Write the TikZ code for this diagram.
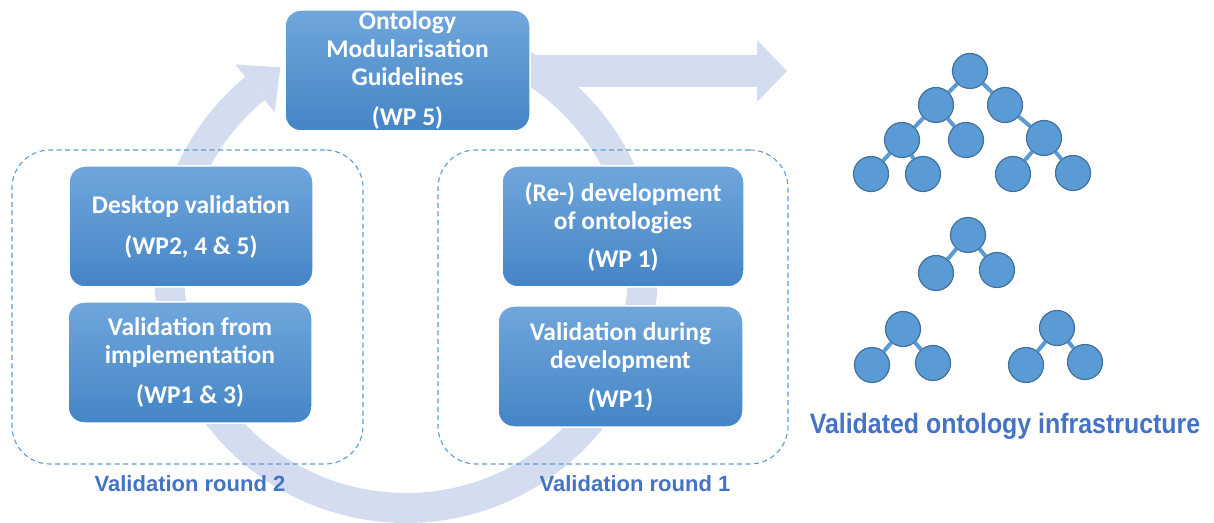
\documentclass[tikz,border=0pt]{standalone}
\usepackage{fontspec}
\setmainfont{Carlito}
\newfontfamily\labfont{Liberation Sans}
\newfontfamily\labnarrow[FakeStretch=0.89]{Liberation Sans}
\usetikzlibrary{calc}
\definecolor{ringc}{HTML}{D3DDEF}
\definecolor{dashc}{HTML}{5B9BD5}
\definecolor{boxtop}{HTML}{70A6DC}
\definecolor{boxbot}{HTML}{4485C6}
\definecolor{labc}{HTML}{4472C4}
\definecolor{treec}{HTML}{5B9BD5}
\definecolor{treeb}{HTML}{41719C}
\tikzset{
  ring/.style={draw=ringc, line width=30pt},
  ringfill/.style={fill=ringc},
  dashbox/.style={draw=dashc, line width=1.1pt, dash pattern=on 5pt off 3.5pt, rounded corners=38pt, inner sep=0pt},
  wpbox/.style={rounded corners=16pt, top color=boxtop, bottom color=boxbot, draw=white, line width=1.5pt,
    minimum width=244pt, minimum height=121pt, inner sep=0pt, text=white, align=center,
    font=\fontsize{25.5}{28}\selectfont\bfseries},
  lab/.style={text=labc, inner sep=0pt, anchor=base, font=\labfont\fontsize{22}{24}\selectfont\bfseries},
  tn/.style={circle, fill=treec, draw=treeb, line width=1.2pt, minimum size=35pt, inner sep=0pt},
  te/.style={draw=treec, line width=4pt},
}
\begin{document}
\begin{tikzpicture}[x=1pt,y=1pt]
\useasboundingbox (0,0) rectangle (1214,522);
\coordinate (C) at (406,251);
% circular arrow
\draw[ring] ($(C)+(129.6:237)$) arc[start angle=129.6, end angle=422, radius=237];
\fill[ringfill] ($(C)+(129.6:268)$) -- ($(C)+(129.6:206)$) -- ($(C)+(129.6:237)+(39.6:33)$) -- cycle;
% outgoing arrow
\coordinate (out) at (787,451);
\fill[ringfill] (505,467) rectangle (758,435);
\fill[ringfill] (757,482) -- (out) -- (757,420) -- cycle;
% dashed groups
\node[dashbox, minimum width=351pt, minimum height=314pt] (g2) at (187.5,215) {};
\node[dashbox, minimum width=350pt, minimum height=314pt] (g1) at (613,215) {};
% boxes
\node[wpbox, minimum width=245pt] (guide) at (407.5,451.5) {Ontology\\Modularisation\\Guidelines\\[12pt](WP 5)};
\node[wpbox] (desk) at (191,295.5) {Desktop validation\\[13pt](WP2, 4 \& 5)};
\node[wpbox] (impl) at (190,159.5) {Validation from\\implementation\\[12pt](WP1 \& 3)};
\node[wpbox, minimum width=242pt] (dev) at (623,295.5) {(Re-) development\\of ontologies\\[10pt](WP 1)};
\node[wpbox, minimum width=245pt] (vdev) at (620.5,155.5) {Validation during\\development\\[11pt](WP1)};
% labels
\node[lab] (l2) at (190,31) {Validation round 2};
\node[lab] (l1) at (635,31) {Validation round 1};
\node[lab, font=\labnarrow\fontsize{28}{30}\selectfont\bfseries] (inf) at (1005,89) {Validated ontology infrastructure};
% big tree
\node[tn] (t0) at (970,451) {};
\node[tn] (ta) at (936,417) {};
\node[tn] (tb) at (1005,417) {};
\node[tn] (tc) at (902,382) {};
\node[tn] (td) at (966,382) {};
\node[tn] (te) at (1044,384) {};
\node[tn] (tf) at (871,348) {};
\node[tn] (tg) at (923,348) {};
\node[tn] (th) at (1013,348) {};
\node[tn] (ti) at (1073,349) {};
% small trees
\node[tn] (r2) at (968,287) {};
\node[tn] (a2) at (936,249) {};
\node[tn] (b2) at (997,252) {};
\node[tn] (r3) at (903,193) {};
\node[tn] (a3) at (872,157) {};
\node[tn] (b3) at (933,159) {};
\node[tn] (r4) at (1057,194) {};
\node[tn] (a4) at (1026,157) {};
\node[tn] (b4) at (1085,160) {};
\draw[te] (t0) -- (ta); \draw[te] (t0) -- (tb);
\draw[te] (ta) -- (tc); \draw[te] (ta) -- (td);
\draw[te] (tb) -- (te);
\draw[te] (tc) -- (tf); \draw[te] (tc) -- (tg);
\draw[te] (te) -- (th); \draw[te] (te) -- (ti);
\draw[te] (r2) -- (a2); \draw[te] (r2) -- (b2);
\draw[te] (r3) -- (a3); \draw[te] (r3) -- (b3);
\draw[te] (r4) -- (a4); \draw[te] (r4) -- (b4);
\end{tikzpicture}
\end{document}
